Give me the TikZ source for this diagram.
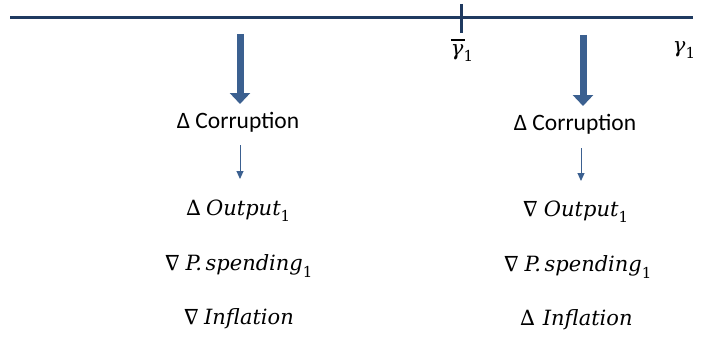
\documentclass[tikz,border=0pt]{standalone}
\usepackage{fontspec}
\usepackage{unicode-math}
\setmainfont{Carlito}
\setmathfont{DejaVu Math TeX Gyre}
\newfontfamily\dsif{DejaVu Serif}[ItalicFont={DejaVu Serif Italic}]
\newcommand\msub[1]{\raisebox{-0.3em}{\upshape\fontsize{15}{15}\selectfont #1}}
\newcommand\mv[1]{{\dsif\itshape #1}}
\usetikzlibrary{arrows.meta}
\definecolor{axis}{HTML}{1F3A60}
\definecolor{arr}{HTML}{3B6090}
\tikzset{
  lbl/.style={font=\fontsize{23.5}{27}\selectfont, inner sep=0pt, anchor=center},
  mlbl/.style={font=\fontsize{21}{24}\selectfont\dsif, inner sep=0pt, anchor=center},
  bigarrow/.style={draw=arr, line width=7pt, -{Triangle[width=20pt,length=11pt]}},
  smallarrow/.style={draw=arr, line width=1pt, -{Triangle[width=7pt,length=8pt]}}
}
\begin{document}
\begin{tikzpicture}[x=1pt,y=-1pt]
\useasboundingbox (0,0) rectangle (701,337);
\coordinate (axL) at (10,18);
\coordinate (axR) at (693,18);
\draw[axis, line width=3pt] (axL) -- (axR);
\coordinate (tkT) at (461,4);
\coordinate (tkB) at (461,33);
\draw[axis, line width=3pt] (tkT) -- (tkB);
\node[mlbl] (gbar) at (462,50) {$\overline{\hbox{\mv{γ}\kern1pt}}$\kern-1pt\msub{1}};
\node[mlbl] (g) at (684,50) {\mv{γ}\msub{1}};

\coordinate (a1s) at (240,34);
\coordinate (a1e) at (240,104);
\draw[bigarrow] (a1s) -- (a1e);
\coordinate (a2s) at (583,35);
\coordinate (a2e) at (583,106);
\draw[bigarrow] (a2s) -- (a2e);

\node[lbl] (c1) at (238,122) {Δ Corruption};
\node[lbl] (c2) at (575,124) {Δ Corruption};

\coordinate (s1s) at (240,145);
\coordinate (s1e) at (240,179);
\draw[smallarrow] (s1s) -- (s1e);
\coordinate (s2s) at (581,148);
\coordinate (s2e) at (581,181);
\draw[smallarrow] (s2s) -- (s2e);

\node[mlbl] (o1) at (238,211) {$\Delta$\,\mv{Output}\msub{1}};
\node[mlbl] (p1) at (238,266) {$\nabla$\,\mv{P.\,spending}\msub{1}};
\node[mlbl] (i1) at (238,319) {$\nabla$\,\mv{Inflation}};
\node[mlbl] (o2) at (575,212) {$\nabla$\,\mv{Output}\msub{1}};
\node[mlbl] (p2) at (577,267) {$\nabla$\,\mv{P.\,spending}\msub{1}};
\node[mlbl] (i2) at (576,320) {$\Delta$\ \mv{Inflation}};
\end{tikzpicture}
\end{document}
